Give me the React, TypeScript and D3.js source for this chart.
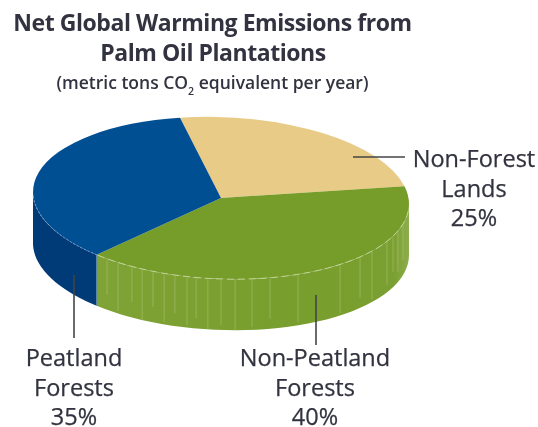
import React from "react";
import * as d3 from "d3";

const categories = ["Non-Forest Lands", "Non-Peatland Forests", "Peatland Forests"];
const shares = [25, 40, 35];
const topColors = ["#e9cb88", "#769d2b", "#004f93"];
const sideColors = ["#d8b870", "#7a9f2f", "#003a78"];
const ribAngles = [217.3, 213.2, 208.3, 204.8, 201.2, 197.6, 194.2, 190.4, 187.6, 184, 180, 175.7, 170.5, 164.9, 155.8, 140.7, 132.3, 126.6, 118, 113.8, 109.7, 104.5];
const ribReach = [0.7, 0.95, 0.7, 1, 0.7, 0.95, 0.75, 0.95, 0.8, 1, 0.9, 1, 0.95, 0.8, 0.95, 0.95, 0.8, 0.95, 0.85, 0.7, 0.8, 0.7];

const W = 538, H = 427;
const cx = 221, cy = 198, rx = 188, ry = 81, depth = 51, tilt = 0.032;
const FONT = "'Open Sans','Noto Sans',sans-serif";
const INK = "#32333f";

const rad = d3.scaleLinear().domain([0, 360]).range([0, 2 * Math.PI]);
const px = (a: number) => cx + rx * Math.sin(a);
const py = (a: number) => cy - ry * Math.cos(a) + tilt * rx * Math.sin(a);

const pie = d3.pie<number>().sort(null).startAngle(rad(-12.6)).endAngle(rad(347.4));
const arcs = pie(shares);
const unitArc = d3.arc<d3.PieArcDatum<number>>().innerRadius(0).outerRadius(1);

function wallPath(a0: number, a1: number) {
  const s = Math.max(a0, Math.PI / 2), e = Math.min(a1, 3 * Math.PI / 2);
  if (e <= s) return null;
  const angs = d3.range(0, 41).map(i => s + (e - s) * i / 40);
  const line = d3.line<[number, number]>();
  const top = angs.map(a => [px(a), py(a)] as [number, number]);
  const bot = angs.slice().reverse().map(a => [px(a), py(a) + depth] as [number, number]);
  return line([...top, ...bot]) + "Z";
}
function edgePath(a0: number, a1: number) {
  const angs = d3.range(0, 41).map(i => a0 + (a1 - a0) * i / 40);
  return d3.line<number>().x(a => px(a)).y(a => py(a))(angs)!;
}

function Label({ x, y, lines }: { x: number; y: number; lines: string[] }) {
  return (
    <text x={x} y={y} textAnchor="middle" fontFamily={FONT} fontSize={23.5} fill={INK} stroke={INK} strokeWidth={0.25}>
      {lines.map((l, i) => <tspan key={l} x={x} y={y + i * 29.5}>{l}</tspan>)}
    </text>
  );
}

export default function App() {
  return (
    <svg width={W} height={H} viewBox={`0 0 ${W} ${H}`} style={{ position: "absolute", left: 0, top: 0, background: "#fff" }}>
      <defs>
        <filter id="soft" x="-5%" y="-5%" width="110%" height="110%">
          <feGaussianBlur stdDeviation="0.45" />
        </filter>
        <linearGradient id="greenWall" x1="0" x2="1" y1="0" y2="0">
          <stop offset="0" stopColor="#7fa335" />
          <stop offset="0.6" stopColor="#789e2d" />
          <stop offset="0.95" stopColor="#7a9f30" />
          <stop offset="1" stopColor="#8dad4c" />
        </linearGradient>
      </defs>
      <g filter="url(#soft)">
        <text x={212.5} y={31} textAnchor="middle" fontFamily={FONT} fontWeight={700} fontSize={23} letterSpacing={-0.45} fill={INK}>Net Global Warming Emissions from</text>
        <text x={213} y={61} textAnchor="middle" fontFamily={FONT} fontWeight={700} fontSize={23} letterSpacing={-0.45} fill={INK}>Palm Oil Plantations</text>
        <text x={212.5} y={89} textAnchor="middle" fontFamily={FONT} fontWeight={600} fontSize={17.5} letterSpacing={0} fill={INK}>
          (metric tons CO<tspan fontSize={10.5} dy={6}>2</tspan><tspan dy={-6}> equivalent per year)</tspan>
        </text>

        {arcs.map((d, i) => {
          const p = wallPath(d.startAngle, d.endAngle);
          return p ? <path key={categories[i]} d={p} fill={i === 1 ? "url(#greenWall)" : sideColors[i]} /> : null;
        })}
        {ribAngles.map((a, i) => {
          const r = rad(a);
          return <line key={a} x1={px(r)} x2={px(r)} y1={py(r) + 1} y2={py(r) + depth * ribReach[i]} stroke="#adc375" strokeWidth={1} opacity={0.55} />;
        })}
        <line x1={px(arcs[2].startAngle)} x2={px(arcs[2].startAngle)} y1={py(arcs[2].startAngle)} y2={py(arcs[2].startAngle) + depth} stroke="#5f8bb0" strokeWidth={1} />
        {arcs.map((d, i) => (
          <path key={categories[i]} d={unitArc(d)!} fill={topColors[i]} transform={`matrix(${rx},${tilt * rx},0,${ry},${cx},${cy})`} />
        ))}
        <path d={edgePath(rad(95), arcs[1].endAngle)} fill="none" stroke="#c2d296" strokeWidth={1} strokeDasharray="7 4" />
        <path d={edgePath(arcs[2].startAngle, rad(268))} fill="none" stroke="#7f9fc4" strokeWidth={1} strokeDasharray="2 2" />

        <line x1={353} x2={405} y1={157} y2={157} stroke="#444" strokeWidth={1.6} />
        <line x1={74} x2={74} y1={275} y2={338} stroke="#444" strokeWidth={1.6} />
        <line x1={316} x2={316} y1={295} y2={345} stroke="#444" strokeWidth={1.6} />

        <Label x={474} y={167} lines={["Non-Forest", "Lands", `${shares[0]}%`]} />
        <Label x={315} y={366} lines={["Non-Peatland", "Forests", `${shares[1]}%`]} />
        <Label x={74} y={366} lines={["Peatland", "Forests", `${shares[2]}%`]} />
      </g>
    </svg>
  );
}
